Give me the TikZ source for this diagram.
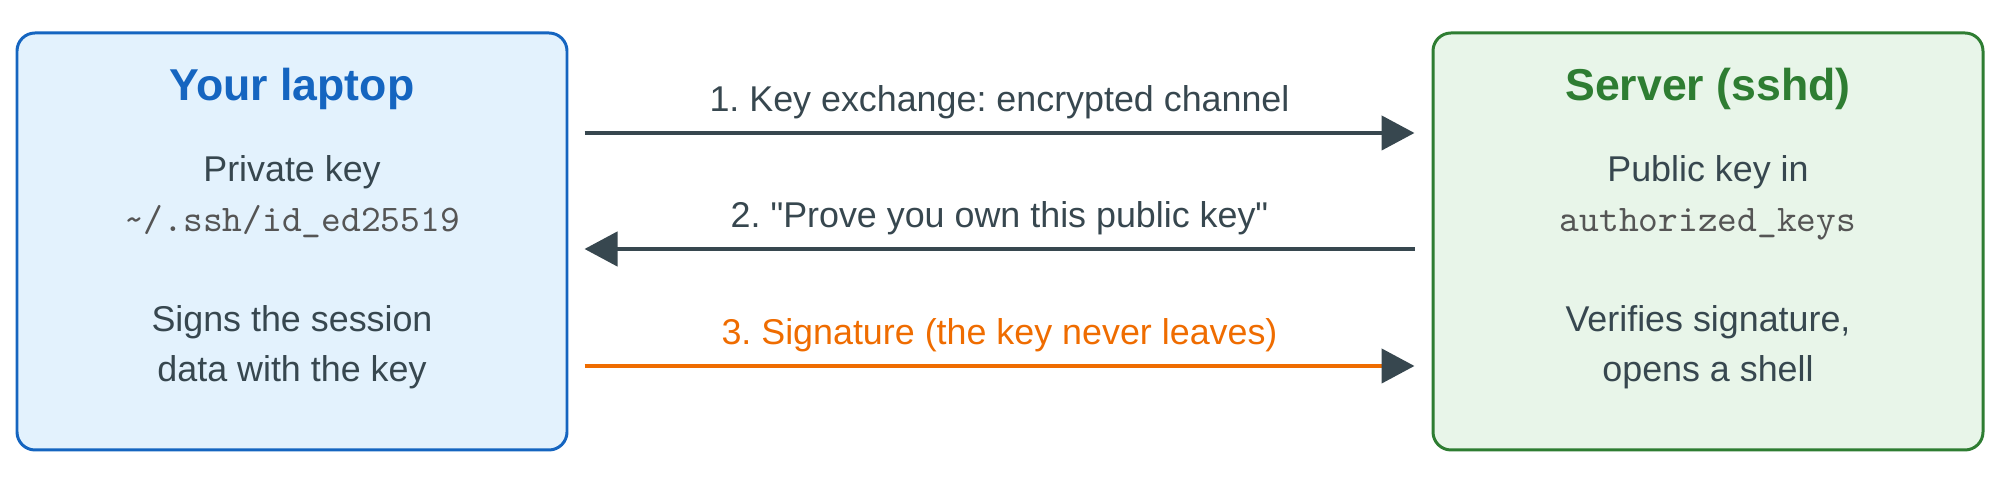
\documentclass[tikz,border=0pt]{standalone}
\usepackage{fontspec}
\setmainfont{Liberation Sans}
\usetikzlibrary{arrows.meta, positioning}
\definecolor{laptopblue}{HTML}{1565C0}
\definecolor{laptopfill}{HTML}{E3F2FD}
\definecolor{servergreen}{HTML}{2E7D32}
\definecolor{serverfill}{HTML}{E8F5E9}
\definecolor{textgrey}{HTML}{37474F}
\definecolor{monogrey}{HTML}{555555}
\definecolor{signorange}{HTML}{EF6C00}
\tikzstyle{machine} = [rectangle, rounded corners=0.18cm, minimum width=5.5cm, minimum height=4.17cm, line width=0.85pt]
\tikzstyle{boxtitle} = [font=\fontsize{12.7}{15}\selectfont\bfseries, anchor=base]
\tikzstyle{body} = [font=\fontsize{10.2}{14.2}\selectfont, text=textgrey, align=center, anchor=base]
\tikzstyle{filename} = [font=\fontsize{10.7}{12}\selectfont\ttfamily, text=monogrey, anchor=base]
\tikzstyle{arrow} = [line width=1.3pt, draw=textgrey, -{Triangle[length=0.33cm, width=0.34cm, color=textgrey]}]
\tikzstyle{msg} = [font=\fontsize{10.2}{12}\selectfont, text=textgrey, anchor=base, midway, yshift=0.21cm]
\frenchspacing

\begin{document}
\begin{tikzpicture}
			\path[use as bounding box] (0,0) rectangle (20,4.83);
			\node(laptop)[machine, draw=laptopblue, fill=laptopfill] at (2.92,2.415) {};
			\node(server)[machine, draw=servergreen, fill=serverfill] at (17.08,2.415) {};

			% Laptop side
			\node(laptoptitle)[boxtitle, text=laptopblue] at ([yshift=-0.69cm]laptop.north) {Your laptop};
			\node(privkey)[body] at ([yshift=-1.5cm]laptop.north) {Private key};
			\node(privfile)[filename] at ([yshift=-2cm]laptop.north) {\string~/.ssh/id\_ed25519};
			\node(signs)[body] at ([yshift=-3.5cm]laptop.north) {Signs the session\\data with the key};

			% Server side
			\node(servertitle)[boxtitle, text=servergreen] at ([yshift=-0.69cm]server.north) {Server (sshd)};
			\node(pubkey)[body] at ([yshift=-1.5cm]server.north) {Public key in};
			\node(pubfile)[filename] at ([yshift=-2cm]server.north) {authorized\_keys};
			\node(verifies)[body] at ([yshift=-3.5cm]server.north) {Verifies signature,\\opens a shell};

			\draw [arrow] ([xshift=0.16cm, yshift=1.085cm]laptop.east) -- ([xshift=-0.17cm, yshift=1.085cm]server.west) node[msg]{1. Key exchange: encrypted channel};
			\draw [arrow] ([xshift=-0.17cm, yshift=-0.075cm]server.west) -- ([xshift=0.16cm, yshift=-0.075cm]laptop.east) node[msg]{2. \textquotedbl Prove you own this public key\textquotedbl};
			\draw [arrow, draw=signorange] ([xshift=0.16cm, yshift=-1.245cm]laptop.east) -- ([xshift=-0.17cm, yshift=-1.245cm]server.west) node[msg, text=signorange]{3. Signature (the key never leaves)};
\end{tikzpicture}
\end{document}
